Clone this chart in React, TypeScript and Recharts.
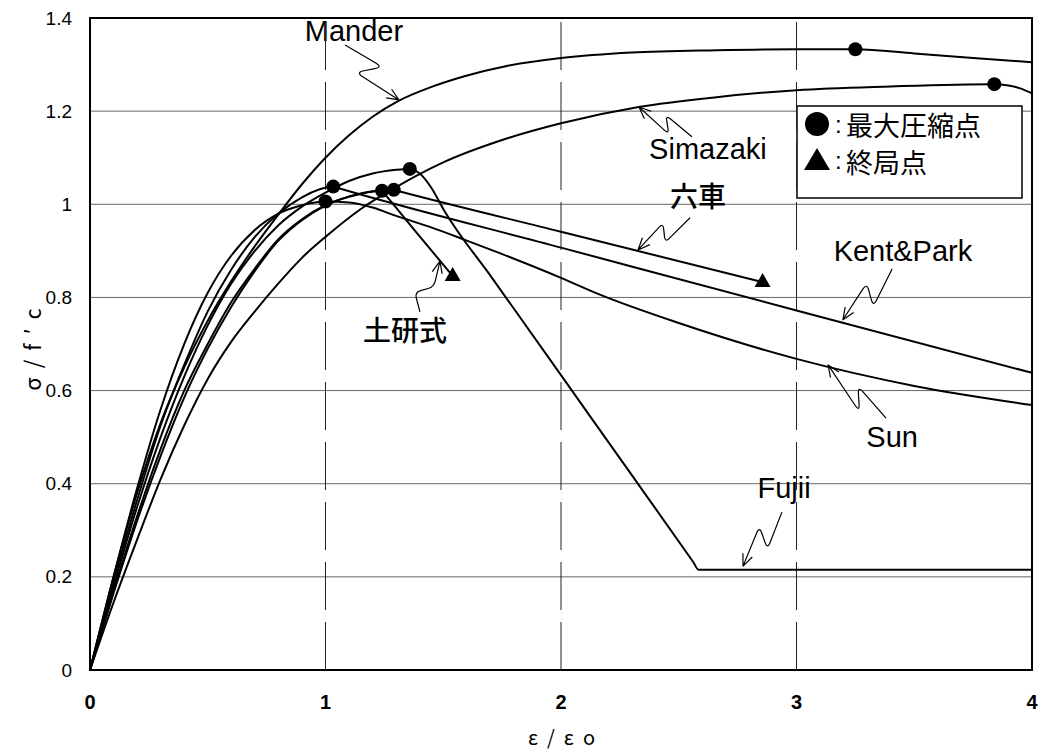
import React from 'react';
import {
  ComposedChart, Line, Scatter, XAxis, YAxis, CartesianGrid, ReferenceLine, Customized,
} from 'recharts';

type Pt = { x: number; y: number };
const P = (x: number, y: number): Pt => ({ x, y });

// σ/f'c vs ε/εo
const mander: Pt[] = [
  P(0, 0), P(0.1, 0.2), P(0.2, 0.38), P(0.3, 0.53), P(0.4, 0.65), P(0.5, 0.75), P(0.6, 0.835),
  P(0.7, 0.91), P(0.8, 0.978), P(0.9, 1.043), P(1.0, 1.1), P(1.1, 1.148), P(1.2, 1.188),
  P(1.31, 1.222), P(1.45, 1.252), P(1.59, 1.275), P(1.77, 1.297), P(2.0, 1.314), P(2.3, 1.326),
  P(2.66, 1.331), P(3.0, 1.333), P(3.25, 1.333), P(3.5, 1.324), P(3.75, 1.314), P(4.0, 1.305),
];
const simazaki: Pt[] = [
  P(0, 0), P(0.1, 0.145), P(0.2, 0.28), P(0.3, 0.41), P(0.4, 0.525), P(0.5, 0.625), P(0.6, 0.705),
  P(0.7, 0.77), P(0.8, 0.83), P(0.9, 0.885), P(1.0, 0.93), P(1.15, 0.99), P(1.3, 1.037),
  P(1.5, 1.09), P(1.75, 1.138), P(2.0, 1.174), P(2.33, 1.209), P(2.66, 1.23), P(3.0, 1.245),
  P(3.4, 1.253), P(3.84, 1.258), P(3.9, 1.255), P(3.95, 1.249), P(4.0, 1.238),
];
const muguruma: Pt[] = [
  P(0, 0), P(0.1, 0.165), P(0.2, 0.32), P(0.3, 0.46), P(0.4, 0.585), P(0.5, 0.69), P(0.6, 0.78),
  P(0.7, 0.857), P(0.8, 0.922), P(0.9, 0.966), P(1.0, 0.997), P(1.1, 1.017), P(1.2, 1.028),
  P(1.29, 1.031), P(1.32, 1.027), P(2.0, 0.941), P(2.856, 0.833),
];
const doken: Pt[] = [
  P(0, 0), P(0.1, 0.17), P(0.2, 0.33), P(0.3, 0.475), P(0.4, 0.6), P(0.5, 0.7), P(0.6, 0.79),
  P(0.7, 0.862), P(0.8, 0.925), P(0.9, 0.968), P(1.0, 0.998), P(1.1, 1.016), P(1.24, 1.029),
  P(1.26, 1.017), P(1.4, 0.931), P(1.54, 0.846),
];
const kentPark: Pt[] = [
  P(0, 0), P(0.1, 0.19), P(0.2, 0.365), P(0.3, 0.525), P(0.4, 0.655), P(0.5, 0.77), P(0.6, 0.86),
  P(0.7, 0.93), P(0.8, 0.98), P(0.9, 1.015), P(1.033, 1.038), P(1.06, 1.034), P(2.0, 0.907),
  P(3.0, 0.772), P(4.0, 0.638),
];
const sun: Pt[] = [
  P(0, 0), P(0.1, 0.2), P(0.2, 0.39), P(0.3, 0.56), P(0.4, 0.7), P(0.5, 0.81), P(0.6, 0.89),
  P(0.7, 0.945), P(0.8, 0.98), P(0.9, 0.998), P(1.0, 1.006), P(1.1, 1.004), P(1.2, 0.993),
  P(1.3, 0.975), P(1.44, 0.952), P(1.6, 0.922), P(1.74, 0.895), P(2.0, 0.842), P(2.16, 0.807),
  P(2.5, 0.745), P(3.0, 0.668), P(3.5, 0.61), P(4.0, 0.569),
];
const fujii: Pt[] = [
  P(0, 0), P(0.1, 0.18), P(0.2, 0.35), P(0.3, 0.5), P(0.4, 0.63), P(0.5, 0.74), P(0.6, 0.83),
  P(0.7, 0.9), P(0.8, 0.955), P(0.9, 0.995), P(1.0, 1.025), P(1.1, 1.05), P(1.2, 1.066),
  P(1.3, 1.074), P(1.358, 1.076), P(1.4, 1.066), P(1.45, 1.035), P(1.5, 0.99), P(1.71, 0.84),
  P(2.0, 0.633), P(2.3, 0.419), P(2.56, 0.233), P(2.585, 0.215), P(2.6, 0.215), P(3.3, 0.215),
  P(4.0, 0.215),
];

// ● 最大圧縮点, ▲ 終局点
const peakPts: Pt[] = [
  P(1.0, 1.006), P(1.033, 1.038), P(1.24, 1.029), P(1.29, 1.031), P(1.358, 1.076),
  P(3.25, 1.333), P(3.84, 1.258),
];
const ultPts: Pt[] = [P(1.54, 0.846), P(2.856, 0.833)];

const xTicks = [0, 1, 2, 3, 4];
const yTicks = [0, 0.2, 0.4, 0.6, 0.8, 1.0, 1.2, 1.4];
const dashedX = [1, 2, 3];

// curve labels: text, label centre, leader tail, leader tip, zigzag shape
type Note = { text: string; cjk?: boolean; at: Pt; tail: Pt; tip: Pt; zz: number[] };
const notes: Note[] = [
  { text: 'Mander', at: P(1.121, 1.372), tail: P(1.083, 1.342), tip: P(1.312, 1.224), zz: [0.55, 0.15, 0.35, -0.15] },
  { text: 'Simazaki', at: P(2.624, 1.119), tail: P(2.556, 1.145), tip: P(2.331, 1.209), zz: [0.55, -0.1, 0.35, 0.15] },
  { text: '六車', cjk: true, at: P(2.582, 1.02), tail: P(2.548, 0.971), tip: P(2.327, 0.902), zz: [0.56, 0.13, 0.42, -0.16] },
  { text: 'Kent&Park', at: P(3.452, 0.9), tail: P(3.406, 0.861), tip: P(3.197, 0.752), zz: [0.57, 0.18, 0.39, -0.12] },
  { text: 'Sun', at: P(3.406, 0.5), tail: P(3.38, 0.541), tip: P(3.134, 0.655), zz: [0.54, -0.06, 0.3, 0.17] },
  { text: 'Fujii', at: P(2.947, 0.391), tail: P(2.938, 0.339), tip: P(2.773, 0.223), zz: [0.58, 0.15, 0.37, -0.15] },
  { text: '土研式', cjk: true, at: P(1.338, 0.732), tail: P(1.401, 0.769), tip: P(1.486, 0.878), zz: [0.3, 0.22, 0.52, -0.07] },
];

const W = 1041;
const H = 753;
const PLOT = { x: 90, y: 18, w: W - 9 - 90, h: H - 18 - 83 };
const sx = (v: number) => PLOT.x + (v / 4) * PLOT.w;
const sy = (v: number) => PLOT.y + PLOT.h - (v / 1.4) * PLOT.h;

const LATIN = '"Liberation Sans Narrow", "Liberation Sans", Arial, sans-serif';
const CJK = '"Noto Sans CJK JP", "Noto Sans", sans-serif';

const XTick = ({ x, payload }: any) => (
  <text x={x} y={sy(0) + 32} textAnchor="middle" dominantBaseline="central"
    fontFamily={LATIN} fontWeight="bold" fontSize={20} fill="#000">{payload.value}</text>
);
const YTick = ({ y, payload }: any) => (
  <text x={72} y={y} textAnchor="end" dominantBaseline="central"
    fontFamily={LATIN} fontSize={19} fill="#000">{String(Math.round(payload.value * 10) / 10)}</text>
);

const Dot = ({ cx, cy }: any) => <circle cx={cx} cy={cy} r={7} fill="#000" />;
const Tri = ({ cx, cy }: any) => (
  <polygon points={`${cx},${cy - 9} ${cx - 8},${cy + 5} ${cx + 8},${cy + 5}`} fill="#000" />
);

type V = { x: number; y: number };
function leader(n: Note) {
  const T = { x: sx(n.tail.x), y: sy(n.tail.y) };
  const E = { x: sx(n.tip.x), y: sy(n.tip.y) };
  const dx = E.x - T.x, dy = E.y - T.y;
  const L = Math.hypot(dx, dy);
  const u = { x: dx / L, y: dy / L };
  const nn = { x: u.y, y: -u.x };
  const [a1, p1, a2, p2] = n.zz;
  const A = { x: T.x + a1 * L * u.x + p1 * L * nn.x, y: T.y + a1 * L * u.y + p1 * L * nn.y };
  const B = { x: T.x + a2 * L * u.x + p2 * L * nn.x, y: T.y + a2 * L * u.y + p2 * L * nn.y };
  const pts: V[] = [T, A, B, E];
  let d = `M${T.x},${T.y}`;
  for (let i = 1; i < pts.length - 1; i++) {
    const c = pts[i], pr = pts[i - 1], nx = pts[i + 1];
    const l1 = Math.hypot(pr.x - c.x, pr.y - c.y), l2 = Math.hypot(nx.x - c.x, nx.y - c.y);
    const r = 0.3 * Math.min(l1, l2);
    const c1 = { x: c.x + (r * (pr.x - c.x)) / l1, y: c.y + (r * (pr.y - c.y)) / l1 };
    const c2 = { x: c.x + (r * (nx.x - c.x)) / l2, y: c.y + (r * (nx.y - c.y)) / l2 };
    d += ` L${c1.x},${c1.y} Q${c.x},${c.y} ${c2.x},${c2.y}`;
  }
  d += ` L${E.x},${E.y}`;
  const bl = Math.hypot(E.x - B.x, E.y - B.y);
  const v = { x: (E.x - B.x) / bl, y: (E.y - B.y) / bl };
  const rot = (a: number) => ({
    x: E.x - 13 * (v.x * Math.cos(a) - v.y * Math.sin(a)),
    y: E.y - 13 * (v.x * Math.sin(a) + v.y * Math.cos(a)),
  });
  const h1 = rot(0.4), h2 = rot(-0.4);
  d += ` M${h1.x},${h1.y} L${E.x},${E.y} L${h2.x},${h2.y}`;
  return d;
}

const Overlay = () => (
  <g>
    <rect x={PLOT.x} y={PLOT.y} width={PLOT.w} height={PLOT.h} fill="none" stroke="#000" strokeWidth={2} />
    {notes.map((n) => (
      <g key={n.text}>
        <path d={leader(n)} fill="none" stroke="#000" strokeWidth={1.2} strokeLinejoin="round" />
        <text x={sx(n.at.x)} y={sy(n.at.y)} textAnchor="middle" dominantBaseline="central"
          fontFamily={n.cjk ? CJK : LATIN} fontSize={n.cjk ? 28 : 29} fontWeight={n.cjk ? 500 : 400}
          fill="#000">{n.text}</text>
      </g>
    ))}
    {/* legend */}
    <rect x={797} y={106} width={225} height={92} fill="#fff" stroke="#000" strokeWidth={1.5} />
    <circle cx={817} cy={124} r={12} fill="#000" />
    <polygon points="817,148 804,170 830,170" fill="#000" />
    <text x={835} y={124} dominantBaseline="central" fontFamily={LATIN} fontSize={24} fill="#000">:</text>
    <text x={846} y={124} dominantBaseline="central" fontFamily={CJK} fontSize={27} fill="#000">最大圧縮点</text>
    <text x={835} y={160} dominantBaseline="central" fontFamily={LATIN} fontSize={24} fill="#000">:</text>
    <text x={846} y={161} dominantBaseline="central" fontFamily={CJK} fontSize={27} fill="#000">終局点</text>
    {/* axis titles */}
    <text x={31} y={345} transform="rotate(-90 31 345)" textAnchor="middle" dominantBaseline="central"
      fontFamily={CJK} fontSize={22} letterSpacing={9} fill="#000">σ/f′c</text>
    <text x={sx(2) + 5} y={736} textAnchor="middle" dominantBaseline="central"
      fontFamily={CJK} fontSize={20} letterSpacing={9} fill="#000">ε/εo</text>
  </g>
);

const series: { name: string; data: Pt[] }[] = [
  { name: 'Mander', data: mander },
  { name: 'Simazaki', data: simazaki },
  { name: '六車', data: muguruma },
  { name: '土研式', data: doken },
  { name: 'Kent&Park', data: kentPark },
  { name: 'Sun', data: sun },
  { name: 'Fujii', data: fujii },
];

export default function App() {
  return (
    <div style={{ position: 'absolute', left: 0, top: 0, width: W, height: H, background: '#fff' }}>
      <ComposedChart width={W} height={H} margin={{ top: 18, right: 9, bottom: 0, left: 0 }}>
        <CartesianGrid vertical={false} stroke="#666" strokeWidth={1} />
        <XAxis type="number" dataKey="x" domain={[0, 4]} ticks={xTicks} interval={0} height={83}
          axisLine={false} tickLine={false} tick={(p: any) => <XTick {...p} />} allowDataOverflow />
        <YAxis type="number" dataKey="y" domain={[0, 1.4]} ticks={yTicks} interval={0} width={90}
          axisLine={false} tickLine={false} tick={(p: any) => <YTick {...p} />} allowDataOverflow />
        {dashedX.map((v) => (
          <ReferenceLine key={v} x={v} stroke="#222" strokeWidth={1} strokeDasharray="48 12" />
        ))}
        {series.map((s) => (
          <Line key={s.name} data={s.data} dataKey="y" type="monotone" stroke="#000" strokeWidth={2}
            dot={false} activeDot={false} isAnimationActive={false} />
        ))}
        <Scatter data={peakPts} dataKey="y" shape={(p: any) => <Dot {...p} />} isAnimationActive={false} />
        <Scatter data={ultPts} dataKey="y" shape={(p: any) => <Tri {...p} />} isAnimationActive={false} />
        <Customized component={Overlay} />
      </ComposedChart>
    </div>
  );
}
